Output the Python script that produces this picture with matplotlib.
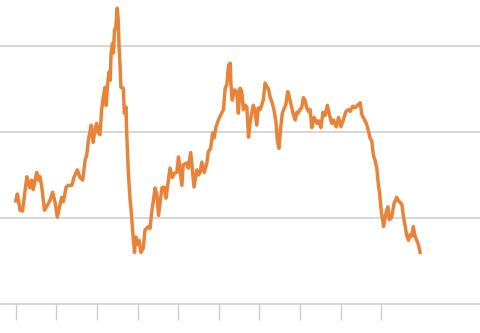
import matplotlib
matplotlib.use("Agg")
import matplotlib.pyplot as plt

# months since the first tick
months = [0.0, 0.5, 1.3, 2.0, 3.3, 4.2, 4.7, 5.2, 6.2, 6.7, 7.2, 7.7, 8.5, 9.2,
          10.1, 10.9, 11.6, 12.3, 12.9, 13.6, 14.1, 14.9, 15.6, 16.6, 17.2, 18.2,
          19.0, 19.8, 20.5, 21.0, 21.5, 22.0, 22.3, 22.6, 22.9, 23.4, 23.9, 24.4,
          24.9, 25.4, 25.9, 26.4, 26.7, 27.2, 27.6, 27.9, 28.2, 28.6, 28.9, 29.2,
          29.6, 30.0, 30.3, 30.5, 30.8, 31.1, 31.8, 32.1, 32.6, 32.8, 33.3, 33.8,
          34.1, 34.6, 35.1, 35.5, 36.1, 36.5, 37.0, 37.7, 38.2, 39.2, 39.7, 40.2,
          41.2, 41.7, 42.2, 43.2, 43.8, 44.4, 44.8, 45.6, 46.3, 46.9, 47.6, 48.1,
          48.4, 49.1, 49.5, 50.6, 51.0, 51.7, 52.3, 52.7, 53.5, 54.0, 54.5, 55.0,
          55.7, 56.5, 56.9, 57.6, 58.2, 58.6, 59.2, 59.9, 60.6, 61.4, 61.9, 62.4,
          62.9, 63.4, 63.6, 64.0, 64.6, 65.3, 65.8, 66.3, 66.8, 67.3, 67.8, 68.3,
          68.8, 69.3, 69.8, 70.2, 70.7, 71.2, 71.7, 72.2, 72.7, 73.2, 73.7, 74.2,
          74.7, 75.2, 75.7, 76.2, 76.9, 77.3, 77.8, 78.3, 78.8, 79.4, 79.8, 80.4,
          80.9, 81.4, 82.1, 82.6, 83.1, 83.5, 84.0, 84.5, 85.0, 85.5, 86.0, 86.5,
          87.0, 87.5, 88.2, 89.0, 89.5, 90.2, 90.8, 91.4, 92.1, 92.7, 93.4, 93.9,
          94.7, 95.4, 96.1, 96.8, 97.6, 98.3, 98.8, 99.6, 100.3, 101.0, 101.8,
          102.3, 102.8, 103.6, 104.2, 104.7, 105.2, 105.7, 106.2, 106.7, 107.2,
          107.5, 108.0, 108.7, 109.4, 110.0, 110.4, 111.1, 111.8, 112.6, 113.1,
          114.1, 114.6, 115.1, 115.6, 116.1, 116.6, 117.1, 117.5, 118.0, 118.5,
          119.0, 119.5]

values = [1.20, 1.28, 1.09, 1.08, 1.48, 1.35, 1.44, 1.33, 1.53, 1.44, 1.48, 1.36,
          1.09, 1.14, 1.20, 1.30, 1.19, 1.01, 1.12, 1.24, 1.19, 1.36, 1.38, 1.38,
          1.47, 1.56, 1.47, 1.44, 1.67, 1.73, 1.91, 2.02, 2.08, 1.99, 1.88, 2.02,
          2.10, 1.99, 1.97, 2.26, 2.41, 2.52, 2.31, 2.57, 2.70, 2.60, 2.92, 3.03,
          2.92, 3.19, 3.22, 3.44, 3.30, 3.03, 2.80, 2.52, 2.51, 2.22, 2.29, 1.99,
          1.52, 1.21, 1.09, 0.83, 0.60, 0.78, 0.69, 0.74, 0.60, 0.65, 0.86, 0.90,
          0.88, 1.07, 1.35, 1.27, 1.03, 1.35, 1.36, 1.23, 1.35, 1.58, 1.47, 1.52,
          1.53, 1.71, 1.62, 1.38, 1.62, 1.64, 1.58, 1.76, 1.52, 1.36, 1.56, 1.50,
          1.53, 1.65, 1.53, 1.64, 1.77, 1.81, 1.99, 1.93, 2.06, 2.14, 2.20, 2.26,
          2.51, 2.55, 2.78, 2.80, 2.55, 2.37, 2.49, 2.47, 2.22, 2.51, 2.47, 2.26,
          2.31, 2.29, 1.94, 2.12, 2.23, 2.31, 2.26, 2.08, 2.28, 2.26, 2.31, 2.38,
          2.57, 2.53, 2.50, 2.40, 2.35, 2.28, 2.12, 1.91, 1.81, 2.05, 2.22, 2.28,
          2.31, 2.47, 2.40, 2.31, 2.20, 2.14, 2.23, 2.22, 2.26, 2.28, 2.40, 2.37,
          2.28, 2.24, 2.26, 2.05, 2.17, 2.10, 2.13, 2.05, 2.23, 2.19, 2.31, 2.20,
          2.10, 2.14, 2.06, 2.17, 2.06, 2.14, 2.24, 2.26, 2.24, 2.30, 2.28, 2.31,
          2.34, 2.20, 2.16, 2.10, 2.02, 1.93, 1.90, 1.73, 1.67, 1.58, 1.38, 1.30,
          1.09, 0.90, 1.06, 1.13, 0.98, 1.01, 1.17, 1.24, 1.20, 1.16, 1.01, 0.90,
          0.79, 0.74, 0.81, 0.79, 0.90, 0.79, 0.74, 0.69, 0.60]

year_ticks = [0, 12, 24, 36, 48, 60, 72, 84, 96, 108]
grid_levels = [1, 2, 3]

fig = plt.figure(figsize=(4.8, 3.33), dpi=100)
ax = fig.add_axes([0, 29 / 333, 1, 304 / 333])

for g in grid_levels:
    ax.axhline(g, color='#cccccc', lw=1.1, zorder=1)

ax.plot(months, values, color='#e8843a', lw=2.5, solid_joinstyle='round', zorder=3)

ax.set_xlim(-4.64, 137.2)
ax.set_ylim(0, 304 / 86)

for s in ['top', 'right', 'left']:
    ax.spines[s].set_visible(False)
ax.spines['bottom'].set_color('#cccccc')
ax.spines['bottom'].set_linewidth(1.1)

ax.set_yticks([])
ax.set_xticks(year_ticks)
ax.set_xticklabels([])
ax.tick_params(axis='x', length=11.5, width=1.0, color='#cccccc', direction='out')

fig.savefig('out.png', dpi=100)
